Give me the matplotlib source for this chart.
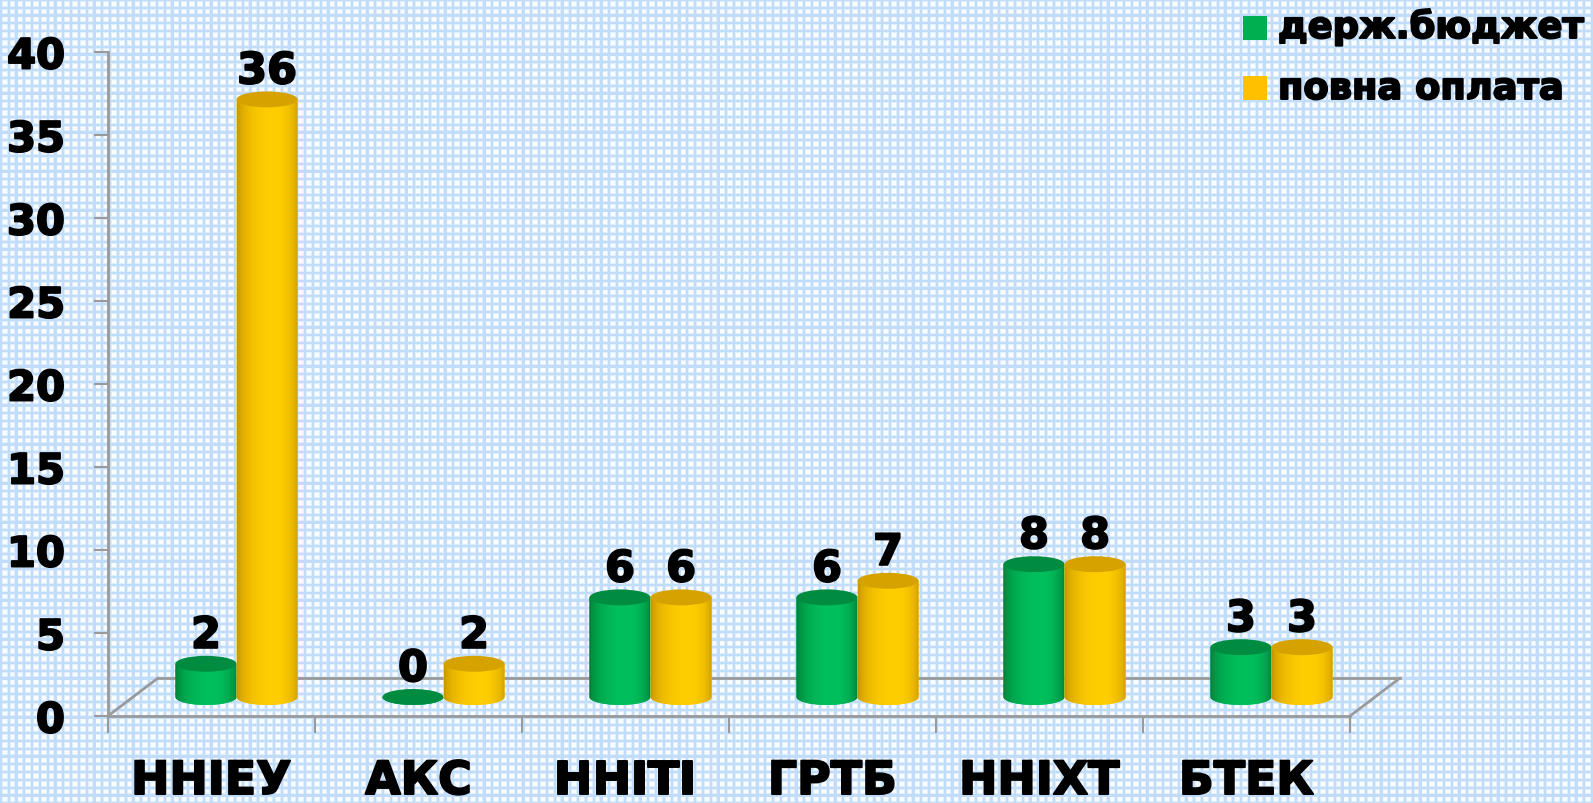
import numpy as np
import matplotlib
matplotlib.use("Agg")
import matplotlib.pyplot as plt
import matplotlib.patheffects as pe
from matplotlib.patches import Ellipse, PathPatch, Rectangle
from matplotlib.path import Path
from matplotlib.transforms import ScaledTranslation

# ---------------- data ----------------
categories = ["ННІЕУ", "АКС", "ННІТІ", "ГРТБ", "ННІХТ", "БТЕК"]
series_names = ["держ.бюджет", "повна оплата"]
budget = [2, 0, 6, 6, 8, 3]
paid = [36, 2, 6, 7, 8, 3]
y_ticks = [0, 5, 10, 15, 20, 25, 30, 35, 40]

# ---------------- style ----------------
W, H, DPI = 1593, 804, 100
plt.rcParams['font.family'] = ['DejaVu Sans']
plt.rcParams['font.weight'] = 'bold'
heavy = [pe.withStroke(linewidth=1.4, foreground='black')]

colors_bright = [(0/255, 192/255, 92/255), (255/255, 206/255, 0/255)]
colors_dark = [(0/255, 120/255, 52/255), (196/255, 145/255, 0/255)]
colors_top = [(0/255, 140/255, 64/255), (214/255, 162/255, 0/255)]
legend_colors = ["#00B050", "#FFC000"]
axis_gray = "#9a9a9a"

fig = plt.figure(figsize=(W / DPI, H / DPI), dpi=DPI)

# background grid texture
bg = fig.add_axes([0, 0, 1, 1], zorder=-10)
period = 7.8
xx = np.arange(W) + 0.5
yy = np.arange(H) + 0.5
dx = np.abs(((xx + 3) % period) - period / 2)
dy = np.abs(((yy + 3) % period) - period / 2)
def level(d):
    out = np.zeros_like(d)
    out[d < 2.0] = 0.45
    out[d < 1.1] = 1.0
    return out
lx = level(dx)[None, :]
ly = level(dy)[:, None]
lv = np.maximum(lx, ly)
white = np.array([0.985, 0.99, 1.0])
blue = np.array([0.76, 0.87, 0.98])
img = white[None, None, :] + (blue - white)[None, None, :] * lv[:, :, None]
bg.imshow(img, aspect='auto', interpolation='nearest', extent=[0, W, H, 0])
bg.set_xlim(0, W)
bg.set_ylim(H, 0)
bg.axis('off')

# main axes: front plane of the 3D box
x0p, x1p, y0p, y1p = 108, 1350, 717, 53
ax = fig.add_axes([x0p / W, 1 - y0p / H, (x1p - x0p) / W, (y0p - y1p) / H])
ax.patch.set_alpha(0)
ax.set_xlim(-0.5, len(categories) - 0.5)
ax.set_ylim(0, 40)

for s in ['top', 'right']:
    ax.spines[s].set_visible(False)
ax.spines['left'].set_color(axis_gray)
ax.spines['left'].set_linewidth(2)
ax.spines['bottom'].set_color(axis_gray)
ax.spines['bottom'].set_linewidth(2)

ax.set_yticks(y_ticks)
ax.set_yticklabels([str(t) for t in y_ticks], fontsize=30, fontweight='bold')
ax.tick_params(axis='y', length=10, width=1.5, color=axis_gray, pad=21)

ax.set_xticks(range(len(categories)))
ax.set_xticklabels(categories, fontsize=33, fontweight='bold')
ax.set_xticks(np.arange(-0.5, len(categories)), minor=True)
ax.tick_params(axis='x', which='major', length=0, pad=31)
ax.tick_params(axis='x', which='minor', length=12, width=1.5, color=axis_gray)
for lab in ax.get_xticklabels() + ax.get_yticklabels():
    lab.set_path_effects(heavy)

# 3D floor (back edge and sides)
depth = ScaledTranslation(50 / DPI, 38 / DPI, fig.dpi_scale_trans)
xl, xr = -0.5, len(categories) - 0.5
ax.plot([xl, xr], [0, 0], color=axis_gray, lw=2, transform=ax.transData + depth,
        clip_on=False, zorder=1)
for xe in (xl, xr):
    ax.annotate("", xy=(xe, 0), xycoords=ax.transData + depth,
                xytext=(xe, 0), textcoords='data',
                arrowprops=dict(arrowstyle='-', color=axis_gray, lw=2,
                                shrinkA=0, shrinkB=0), annotation_clip=False,
                zorder=1)

# bars in the middle depth plane
mid = ax.transData + ScaledTranslation(25 / DPI, 19 / DPI, fig.dpi_scale_trans)
bw = 0.295
eh = 0.96  # ellipse height in data units

u = np.linspace(0, 1, 200)
peak = 0.6
f = np.where(u < peak, 1 - ((peak - u) / peak) ** 2, 1 - ((u - peak) / (1 - peak)) ** 2)
f = np.clip(f, 0, 1) ** 0.6

def cylinder(xc, v, k, z):
    a, b = bw / 2, eh / 2
    xl_, xr_ = xc - a, xc + a
    t = np.linspace(np.pi, 2 * np.pi, 60)
    verts = [(xl_, v), (xl_, 0)] + list(zip(xc + a * np.cos(t), b * np.sin(t))) + [(xr_, v), (xl_, v)]
    codes = [Path.MOVETO] + [Path.LINETO] * (len(verts) - 2) + [Path.CLOSEPOLY]
    body_path = Path(verts, codes)
    base = PathPatch(body_path, transform=mid, facecolor=colors_bright[k],
                     edgecolor='none', zorder=z - 0.05)
    ax.add_patch(base)
    clip = PathPatch(body_path, transform=mid, facecolor='none', edgecolor='none')
    ax.add_patch(clip)
    cb = np.array(colors_bright[k])
    cd = np.array(colors_dark[k])
    grad = cd[None, :] + (cb - cd)[None, :] * f[:, None]
    im = ax.imshow(grad[None, :, :], extent=[xl_, xr_, -b, v], transform=mid,
                   aspect='auto', interpolation='bilinear', zorder=z)
    im.set_clip_path(clip)
    top = Ellipse((xc, v), bw, eh, transform=mid, facecolor=colors_top[k],
                  edgecolor='none', zorder=z + 0.1)
    ax.add_patch(top)
    t_ = ax.annotate(str(v), xy=(xc, v), xycoords=mid, xytext=(0, 11.5),
                     textcoords='offset points', ha='center', va='baseline',
                     fontsize=31, fontweight='bold', color='black', zorder=z + 0.2)
    t_.set_path_effects(heavy)

z = 2
for i in range(len(categories)):
    for k, vals in enumerate([budget, paid]):
        xc = i + (k - 0.5) * bw
        cylinder(xc, vals[i], k, z)
        z += 1

ax.set_xlim(-0.5, len(categories) - 0.5)
ax.set_ylim(0, 40)

# legend
for k, name in enumerate(series_names):
    ytop = 17 + 60 * k
    fig.patches.append(Rectangle((1243 / W, 1 - (ytop + 24) / H), 24 / W, 24 / H,
                                 transform=fig.transFigure, facecolor=legend_colors[k],
                                 edgecolor='none'))
    txt = fig.text(1278 / W, 1 - (39 + 61 * k) / H, name, fontsize=26.5, fontweight='bold',
                   ha='left', va='baseline')
    txt.set_path_effects(heavy)

fig.savefig("out.png", dpi=DPI)
